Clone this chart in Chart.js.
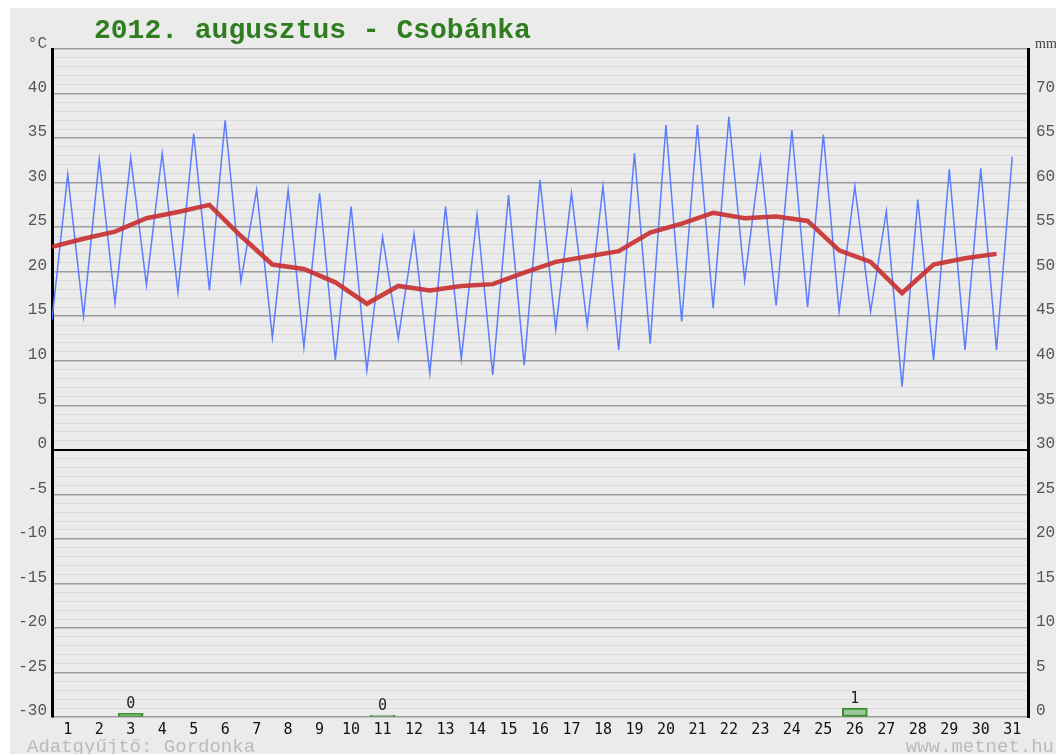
<!DOCTYPE html>
<html>
<head>
<meta charset="utf-8">
<script src="https://cdn.jsdelivr.net/npm/chart.js@4.4.1/dist/chart.umd.min.js"></script>
<style>
  html, body { margin: 0; padding: 0; background: #ffffff; }
  #wrap { position: relative; width: 1056px; height: 754px; }
</style>
</head>
<body>
<div id="wrap"><canvas id="c"></canvas></div>
<script>
// Daily weather, August 2012, Csobánka
const days = [1,2,3,4,5,6,7,8,9,10,11,12,13,14,15,16,17,18,19,20,21,22,23,24,25,26,27,28,29,30,31];

// Daily minimum temperature (°C), plotted at the start of each day
const tMin = [14.6, 15.0, 16.5, 18.5, 17.7, 17.9, 18.9, 12.6, 11.5, 10.1, 8.9, 12.5, 8.6, 10.2, 8.4, 9.5,
              13.5, 13.9, 11.2, 11.9, 14.4, 15.9, 19.0, 16.2, 16.0, 15.5, 15.5, 7.1, 10.1, 11.2, 11.2];

// Daily maximum temperature (°C), plotted mid-day
const tMax = [30.9, 32.6, 32.8, 33.3, 35.5, 37.0, 29.2, 29.2, 28.8, 27.3, 23.9, 24.2, 27.3, 26.4, 28.6, 30.3,
              28.8, 29.6, 33.3, 36.5, 36.5, 37.4, 32.8, 35.9, 35.4, 29.6, 26.8, 28.1, 31.5, 31.6, 32.9];

// Daily mean temperature (°C), plotted at the start of each day
const tAvg = [22.8, 23.7, 24.5, 26.0, 26.7, 27.5, 24.0, 20.8, 20.3, 18.8, 16.4, 18.4, 17.9, 18.4, 18.6, 19.9,
              21.1, 21.7, 22.3, 24.4, 25.4, 26.6, 26.0, 26.2, 25.7, 22.4, 21.1, 17.6, 20.8, 21.5, 22.0];

// Precipitation (mm)
const rainDays = [3, 11, 26];
const rainMm = [0.4, 0.2, 1.0];

// Axis ticks
const tempTicks = [-30, -25, -20, -15, -10, -5, 0, 5, 10, 15, 20, 25, 30, 35, 40];
const mmTicks = [0, 5, 10, 15, 20, 25, 30, 35, 40, 45, 50, 55, 60, 65, 70];

const titleText = '2012. augusztus - Csobánka';
const footerLeft = 'Adatgyűjtő: Gordonka';
const footerRight = 'www.metnet.hu';

// Min/max zig-zag: minimum at the day boundary, maximum in the middle of the day
const minMaxPoints = [];
days.forEach((d, i) => {
  minMaxPoints.push({ x: d - 0.5, y: tMin[i] });
  minMaxPoints.push({ x: d, y: tMax[i] });
});
const avgPoints = days.map((d, i) => ({ x: d - 0.5, y: tAvg[i] }));
const rainPoints = rainDays.map((d, i) => ({ x: d, y: rainMm[i] }));

const MONO = '"Liberation Mono", "Courier New", monospace';
const DMONO = '"DejaVu Sans Mono", monospace';

const pagePlugin = {
  id: 'page',
  beforeDraw(chart) {
    const c = chart.ctx;
    c.save();
    c.fillStyle = '#ffffff';
    c.fillRect(0, 0, chart.width, chart.height);
    c.fillStyle = '#ebebeb';
    c.fillRect(10, 8, chart.width - 10, chart.height - 8);
    c.restore();
  },
  afterDraw(chart) {
    const c = chart.ctx;
    c.save();
    // title
    c.font = 'bold 28px ' + MONO;
    c.fillStyle = '#2e7d1e';
    c.textAlign = 'left';
    c.textBaseline = 'alphabetic';
    c.fillText(titleText, 94, 38);
    // unit captions
    c.font = '16px ' + MONO;
    c.fillStyle = '#555555';
    c.textAlign = 'right';
    c.fillText('°C', 47, 48);
    c.font = '14px "Liberation Serif", serif';
    c.fillStyle = '#444444';
    c.textAlign = 'left';
    c.fillText('mm', 1035, 48);
    // footer
    c.font = '19px ' + MONO;
    c.fillStyle = '#bababa';
    c.textAlign = 'left';
    c.fillText(footerLeft, 27, 752);
    c.textAlign = 'right';
    c.fillText(footerRight, 1054, 752);
    // precipitation labels
    const meta = chart.getDatasetMeta(2);
    c.font = '15px ' + DMONO;
    c.fillStyle = '#222222';
    c.textAlign = 'center';
    c.textBaseline = 'alphabetic';
    meta.data.forEach((bar, i) => {
      c.fillText(String(Math.round(rainMm[i])), bar.x, bar.y - 5);
    });
    c.restore();
  }
};

function gridColor(ctx) {
  const v = ctx.tick ? ctx.tick.value : 0;
  if (v === 0) return '#000000';
  if (v % 5 === 0) return '#9c9c9c';
  return '#d9d9d9';
}
function gridWidth(ctx) {
  const v = ctx.tick ? ctx.tick.value : 0;
  if (v === 0) return 2;
  if (v % 5 === 0) return 1.5;
  return 1;
}

new Chart(document.getElementById('c'), {
  type: 'line',
  data: {
    datasets: [
      {
        label: 'Középhőmérséklet',
        data: avgPoints,
        yAxisID: 'y',
        borderColor: 'rgba(200, 45, 45, 0.9)',
        borderWidth: 4.5,
        pointRadius: 0,
        tension: 0,
        fill: false
      },
      {
        label: 'Min/max hőmérséklet',
        data: minMaxPoints,
        yAxisID: 'y',
        borderColor: '#5b7dff',
        borderWidth: 1.5,
        pointRadius: 0,
        tension: 0,
        fill: false
      },
      {
        type: 'bar',
        label: 'Csapadék',
        data: rainPoints,
        yAxisID: 'y2',
        backgroundColor: '#9bc99b',
        borderColor: '#3a8f2e',
        borderWidth: 2,
        borderSkipped: false,
        barThickness: 25
      }
    ]
  },
  options: {
    responsive: true,
    maintainAspectRatio: false,
    animation: false,
    events: [],
    layout: { padding: { top: 49, left: 0, right: 0, bottom: 0 } },
    plugins: {
      legend: { display: false },
      tooltip: { enabled: false },
      title: { display: false }
    },
    scales: {
      x: {
        type: 'linear',
        min: 0.5,
        max: 31.5,
        offset: false,
        afterBuildTicks(scale) { scale.ticks = days.map(v => ({ value: v })); },
        afterFit(scale) { scale.height = 37; },
        grid: { display: false, drawTicks: false },
        border: { display: false },
        ticks: {
          autoSkip: false,
          maxRotation: 0,
          padding: 4,
          color: '#111111',
          font: { family: DMONO, size: 15 },
          callback: v => String(v)
        }
      },
      y: {
        position: 'left',
        min: -30,
        max: 45,
        afterBuildTicks(scale) {
          const t = [];
          for (let v = -30; v <= 45; v++) t.push({ value: v });
          scale.ticks = t;
        },
        afterFit(scale) { scale.width = 52; },
        grid: { color: gridColor, lineWidth: gridWidth, drawTicks: false },
        border: { color: '#000000', width: 3 },
        ticks: {
          autoSkip: false,
          padding: 5,
          labelOffset: -6,
          color: '#555555',
          font: { family: MONO, size: 16 },
          callback: v => (tempTicks.includes(v) ? String(v) : '')
        }
      },
      y2: {
        position: 'right',
        min: 0,
        max: 75,
        afterBuildTicks(scale) {
          const t = [];
          for (let v = 0; v <= 75; v += 5) t.push({ value: v });
          scale.ticks = t;
        },
        afterFit(scale) { scale.width = 28; },
        grid: { drawOnChartArea: false, drawTicks: false },
        border: { color: '#000000', width: 3 },
        ticks: {
          autoSkip: false,
          padding: 8,
          labelOffset: -6,
          color: '#555555',
          font: { family: MONO, size: 16 },
          callback: v => (mmTicks.includes(v) ? String(v) : '')
        }
      }
    }
  },
  plugins: [pagePlugin]
});
</script>
</body>
</html>
